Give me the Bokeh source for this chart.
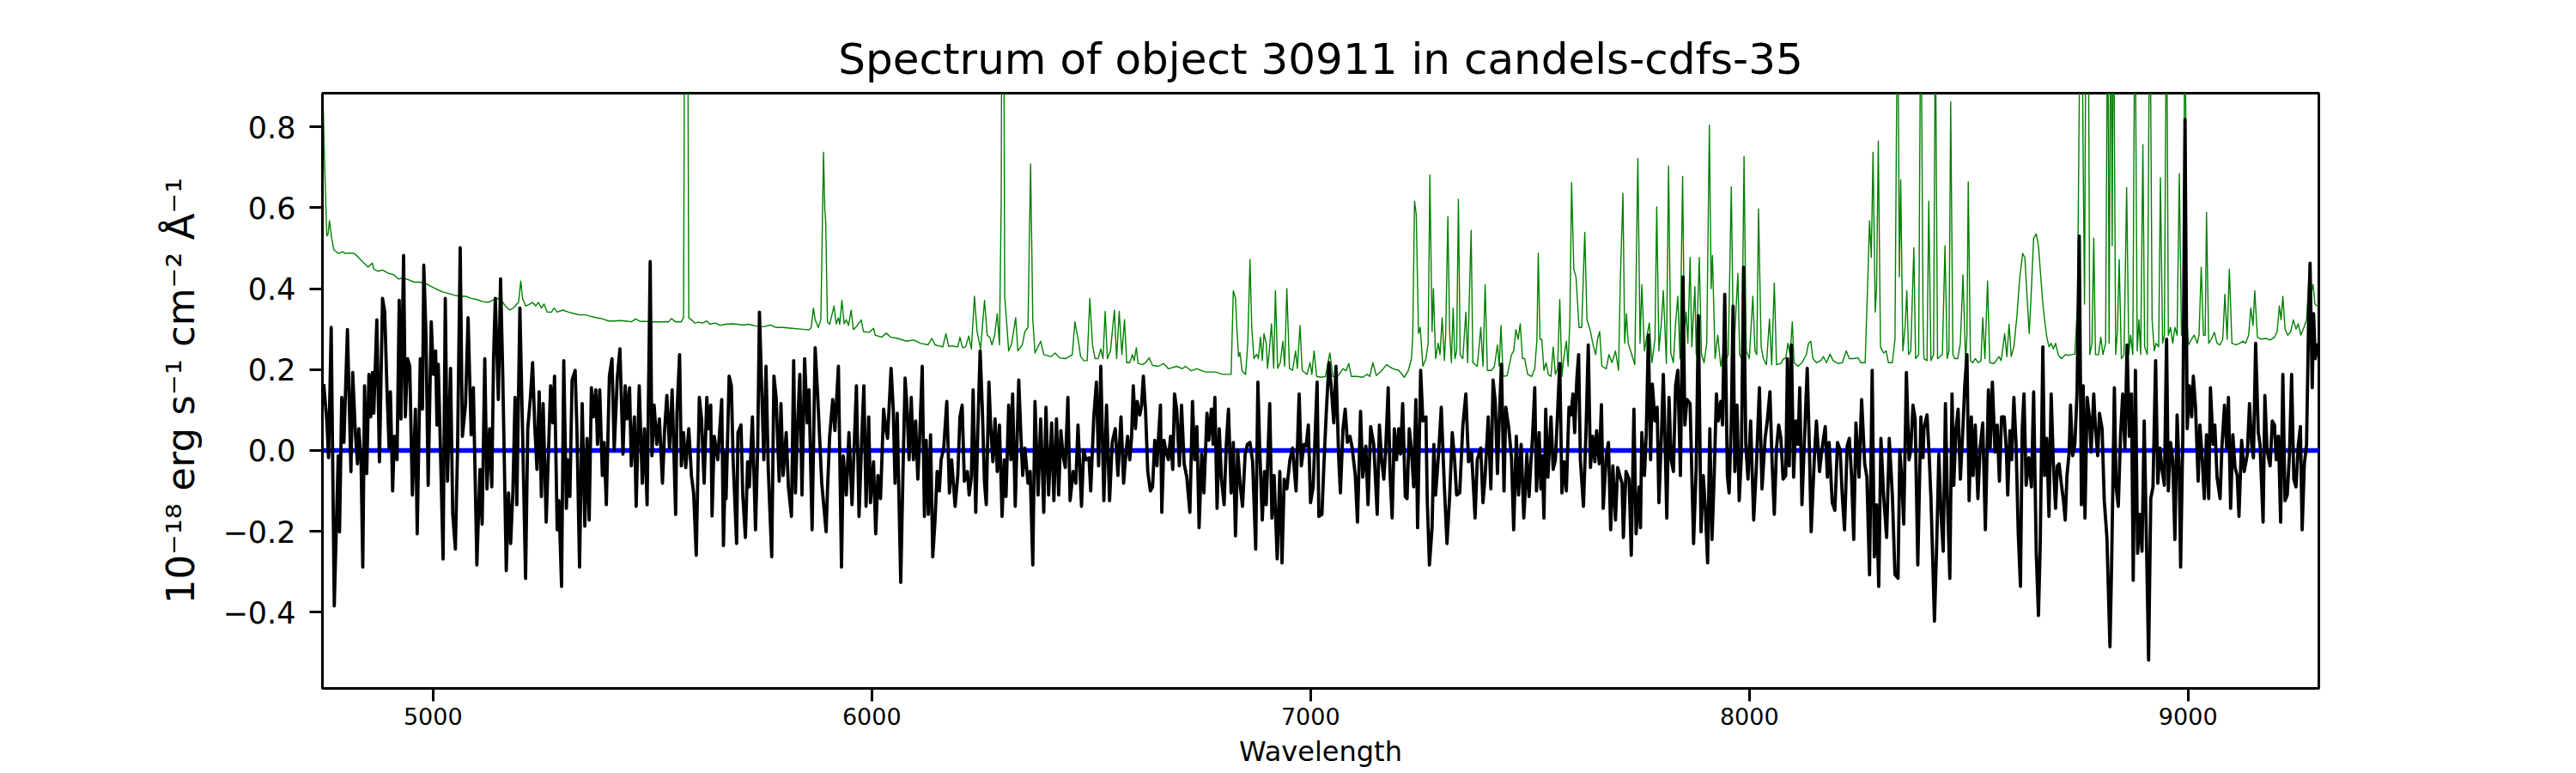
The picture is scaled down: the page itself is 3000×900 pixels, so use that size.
from bokeh.plotting import figure
from bokeh.models import FixedTicker, Range1d, CustomJSTickFormatter
from bokeh.embed import file_html
from bokeh.resources import INLINE

FONT = "DejaVu Sans"

title_text = "Spectrum of object 30911 in candels-cdfs-35"
x_label = "Wavelength"
y_label = "10\u207b\u00b9\u2078 erg s\u207b\u00b9 cm\u207b\u00b2 \u00c5\u207b\u00b9"
x_ticks = [5000, 6000, 7000, 8000, 9000]
y_ticks = [-0.4, -0.2, 0.0, 0.2, 0.4, 0.6, 0.8]
x_limits = (4748, 9298)
y_limits = (-0.588, 0.883)

flux_wl_1 = [4751,4758,4762,4768,4775,4784,4787,4792,4797,4805,4813,4817,4823,4828,4831,4836,4840,4844,4849,4854,
             4858,4862,4865,4872,4878,4885,4890,4895,4900,4903,4908,4912,4918,4923,4927,4933,4937,4942,4947,4953,
             4960,4964,4971,4976,4979,4984,4989,4996,5001,5006,5009,5012,5017,5023,5028,5033,5040,5045,5051,5056,
             5062,5067,5074,5080,5087,5092,5100,5107,5112,5118,5123,5129,5134,5138,5142,5149,5154,5159,5167,5172,
             5177,5182,5187,5191,5198,5204,5211,5216,5222,5227,5232,5237,5242,5247,5251,5258,5263,5268,5273,5277,
             5283,5287,5293,5298,5304,5307,5312,5317,5324,5328,5334,5340,5346,5351,5356,5361,5366,5371,5375,5380,
             5386,5390,5395,5402,5408,5413,5420,5426,5433,5438,5442,5448,5452,5459,5463,5470,5477,5482,5488,5495,
             5499,5504,5510,5516,5523,5528,5533,5539,5545,5553,5556,5562,5566,5571,5576,5583,5589,5594,5600,5607,
             5612,5618,5624,5628,5633,5636,5641,5649,5658,5662,5667]
flux_1 = [0.164,0.073,-0.018,0.304,-0.384,-0.013,-0.201,0.131,0.020,0.299,-0.052,0.193,0.044,-0.033,0.054,-0.023,-0.288,0.160,-0.057,0.188,
          0.083,0.193,0.092,0.323,-0.028,0.376,0.342,0.155,0.006,0.145,-0.100,0.035,-0.023,0.371,0.078,0.482,0.083,0.227,0.208,-0.110,
          0.102,-0.206,0.227,0.102,0.458,0.285,-0.086,0.318,0.188,0.246,0.063,0.213,0.001,-0.268,0.376,-0.076,0.203,-0.158,-0.244,0.006,
          0.501,0.035,0.112,0.328,0.039,0.155,-0.283,-0.047,-0.182,0.227,-0.095,0.054,-0.090,0.227,0.376,0.126,0.424,0.188,-0.297,-0.105,
          -0.230,-0.105,0.131,-0.134,0.352,0.054,-0.316,0.054,0.131,0.217,0.059,-0.047,0.145,-0.114,0.116,-0.177,-0.009,0.160,0.068,0.184,
          -0.196,-0.124,-0.336,0.222,-0.143,-0.023,-0.114,0.174,0.198,0.054,-0.288,0.116,-0.187,0.030,-0.172,0.155,0.083,0.150,0.015,0.150,
          -0.062,0.020,-0.134,0.184,0.227,0.001,0.179,0.251,-0.009,0.160,0.078,0.155,-0.038,0.083,-0.138,0.160,-0.081,0.054,-0.134,0.467,
          -0.013,0.112,0.015,0.078,-0.081,0.054,0.136,0.006,0.150,-0.158,0.092,0.237,-0.038,0.044,-0.042,0.054,-0.062,-0.105,-0.259,0.131,
          0.078,-0.081,0.131,0.054,0.112,-0.162,0.035,-0.023,0.126,-0.235,-0.004]

flux_wl_2 = [5668,5675,5680,5684,5692,5695,5702,5706,5712,5717,5721,5728,5735,5740,5744,5750,5754,5759,5764,5772,
             5777,5782,5789,5793,5798,5805,5810,5817,5822,5826,5831,5836,5841,5847,5853,5857,5864,5871,5877,5881,
             5886,5896,5899,5904,5911,5916,5924,5931,5935,5942,5948,5955,5965,5971,5978,5982,5987,5993,5997,6004,
             6009,6014,6020,6027,6032,6036,6044,6049,6053,6058,6066,6071,6076,6080,6085,6090,6095,6100,6105,6109,
             6115,6120,6124,6129,6134,6139,6144,6149,6154,6158,6164,6171,6177,6182,6190,6196,6201,6206,6211,6218,
             6222,6227,6231,6237,6242,6247,6252,6257,6261,6267,6271,6276,6281,6286,6291,6297,6302,6306,6312,6317,
             6321,6327,6335,6340,6344,6349,6356,6361,6367,6372,6379,6385,6392,6397,6403,6410,6415,6421,6426,6431,
             6436,6441,6447,6452,6459,6465,6470,6478,6483,6488,6495,6499,6506,6512,6517,6522,6529,6535,6542,6548,
             6555,6561,6568,6574]
flux_2 = [-0.119,0.184,0.160,-0.023,-0.230,0.044,0.063,-0.110,-0.215,-0.028,-0.090,0.083,-0.196,0.006,0.342,0.121,-0.023,0.208,-0.042,-0.263,
          0.184,0.131,-0.076,0.116,-0.062,0.044,-0.090,-0.163,0.222,-0.105,0.063,0.188,-0.110,0.227,0.068,0.150,-0.196,0.254,0.131,0.035,
          -0.081,-0.201,-0.100,0.035,0.126,0.049,0.208,-0.288,-0.013,-0.110,0.044,-0.134,0.160,-0.163,0.054,0.160,-0.138,0.083,-0.129,-0.028,
          -0.206,-0.062,-0.119,0.102,0.054,0.030,0.203,0.102,-0.081,0.092,-0.326,-0.062,0.179,0.112,-0.023,0.131,-0.023,0.073,-0.071,0.025,
          0.208,-0.163,0.025,-0.158,0.039,-0.263,-0.177,-0.052,-0.100,-0.023,0.006,0.121,-0.105,-0.023,-0.138,-0.062,0.083,0.112,-0.076,-0.052,
          -0.110,-0.066,0.150,-0.153,0.063,0.246,0.102,-0.081,-0.134,0.169,0.063,-0.028,0.078,-0.052,0.063,-0.163,-0.023,-0.114,0.112,-0.023,
          0.140,-0.138,0.174,0.035,-0.062,0.006,-0.081,-0.052,-0.283,0.121,-0.110,0.078,-0.153,0.107,-0.110,0.068,-0.124,0.078,-0.110,0.049,
          -0.013,-0.042,0.131,-0.124,-0.052,-0.081,0.063,-0.138,0.001,-0.023,-0.018,-0.100,0.083,0.169,-0.038,0.208,-0.124,0.112,-0.124,0.020,
          0.054,-0.062,0.083,-0.081]

flux_wl_3 = [6578,6583,6588,6592,6596,6601,6605,6611,6615,6619,6624,6629,6635,6640,6645,6650,6653,6658,6661,6666,
             6671,6676,6681,6686,6690,6695,6701,6706,6712,6718,6725,6731,6736,6741,6746,6752,6757,6764,6768,6774,
             6778,6782,6787,6792,6797,6803,6808,6813,6819,6824,6829,6834,6840,6845,6851,6856,6862,6868,6875,6880,
             6884,6890,6895,6899,6907,6912,6917,6924,6930,6935,6940,6946,6953,6959,6967,6974,6979,6985,6990,6995,
             7000,7006,7015,7019,7026,7030,7036,7042,7047,7053,7058,7064,7068,7074,7079,7084,7090,7095,7102,7107,
             7114,7119,7126,7131,7137,7144,7152,7157,7162,7167,7171,7177,7181,7186,7191,7196,7201,7205,7210,7216,
             7220,7225,7230,7235,7240,7244,7251,7256,7263,7266,7271,7277,7281,7285,7292,7298,7305,7311,7317,7323,
             7328,7333,7340,7347,7354,7360,7367,7375,7380,7388,7393,7398,7405,7411,7416,7421,7426,7430,7435,7441,
             7445,7452,7458,7463,7469,7474,7480,7486]
flux_3 = [-0.023,0.035,-0.023,0.030,0.160,0.054,0.121,0.088,0.112,0.184,0.097,-0.052,-0.100,-0.090,0.025,-0.038,0.025,0.112,-0.153,0.025,
          -0.004,-0.023,0.035,-0.047,0.140,0.102,-0.038,0.112,-0.033,-0.066,-0.153,0.121,-0.023,0.059,-0.191,-0.009,-0.105,0.092,0.025,0.102,
          0.015,0.131,-0.143,0.054,-0.071,-0.134,0.015,0.102,-0.105,0.020,-0.211,0.001,-0.090,-0.138,-0.009,0.015,0.020,-0.028,-0.244,0.169,
          0.011,-0.172,-0.052,-0.134,0.116,-0.167,-0.062,-0.268,-0.052,-0.278,-0.071,-0.095,-0.023,0.006,-0.100,0.140,-0.038,0.015,0.011,0.063,
          -0.129,-0.090,0.169,-0.163,-0.158,-0.047,0.097,0.217,0.160,0.068,0.208,-0.013,-0.105,0.054,0.102,0.020,0.035,0.006,-0.062,-0.177,
          0.097,-0.066,0.011,-0.134,0.059,0.015,-0.158,0.063,-0.023,-0.071,-0.004,0.155,-0.052,-0.167,0.054,-0.023,0.054,-0.009,0.116,-0.114,
          -0.119,0.054,0.001,-0.090,0.126,-0.191,0.198,0.073,0.083,-0.124,-0.283,-0.191,0.015,-0.110,-0.004,0.107,-0.090,-0.230,-0.114,0.044,
          -0.018,-0.110,-0.105,0.059,0.140,-0.028,-0.004,-0.167,-0.023,0.006,-0.129,-0.062,0.083,-0.095,0.174,0.121,-0.057,0.073,0.213,-0.100,
          0.107,0.054,-0.018,-0.196,0.035,-0.110,0.015,-0.167]

flux_wl_4 = [7488,7493,7498,7502,7506,7511,7515,7521,7525,7528,7532,7536,7541,7548,7553,7558,7563,7568,7573,7578,
             7583,7589,7594,7598,7602,7607,7611,7615,7622,7628,7633,7638,7643,7648,7652,7658,7663,7667,7674,7679,
             7684,7689,7695,7700,7705,7710,7713,7719,7726,7731,7737,7742,7749,7752,7755,7761,7765,7770,7775,7779,
             7785,7790,7794,7800,7804,7807,7812,7817,7822,7827,7832,7837,7843,7849,7853,7858,7865,7873,7879,7884,
             7890,7895,7900,7905,7910,7915,7920,7925,7929,7935,7939,7944,7950,7954,7959,7963,7967,7972,7977,7982,
             7987,7992,7997,8003,8010,8016,8023,8029,8036,8041,8047,8052,8057,8062,8067,8072,8077,8083,8087,8091,
             8096,8101,8106,8111,8115,8120,8126,8132,8137,8141,8148,8153,8160,8166,8173,8178,8182,8189,8195,8201,
             8207,8212,8217,8223,8228,8233,8238,8243,8250,8256,8263,8268,8274,8280,8285,8290,8295,8300,8306,8313,
             8319,8326,8332,8339,8343,8347,8352,8358,8364,8368,8373,8378,8384,8391,8396]
flux_4 = [-0.129,-0.009,-0.114,-0.033,0.035,0.155,-0.100,0.044,-0.095,-0.013,-0.167,0.102,-0.066,0.083,-0.047,-0.023,0.092,0.215,-0.105,-0.028,
          -0.100,0.107,0.088,0.140,0.044,0.179,0.237,-0.023,-0.138,0.054,0.261,-0.042,0.035,-0.028,0.049,-0.033,0.113,-0.143,-0.013,0.020,
          -0.196,-0.038,-0.172,-0.042,-0.062,-0.081,-0.215,-0.052,-0.071,-0.259,0.102,-0.206,-0.090,-0.191,0.044,-0.062,0.035,0.285,-0.023,0.164,
          0.073,0.107,-0.129,0.044,0.188,0.073,-0.167,0.131,-0.023,-0.052,0.160,0.198,-0.062,0.429,0.063,0.126,0.116,-0.230,-0.042,0.333,
          -0.201,-0.062,-0.148,-0.278,0.054,-0.220,-0.062,0.140,0.073,0.121,0.063,0.386,-0.062,-0.105,0.073,0.357,-0.052,0.112,-0.124,-0.013,
          0.453,0.015,-0.071,0.073,-0.172,-0.042,0.155,-0.095,0.030,0.073,0.145,-0.033,-0.158,0.006,0.063,0.030,-0.071,-0.062,0.227,-0.038,
          0.261,-0.066,0.073,0.015,0.155,-0.134,0.035,0.203,0.006,-0.201,-0.023,0.073,-0.052,0.006,0.059,-0.066,0.020,-0.129,-0.148,0.020,
          0.001,-0.114,-0.196,0.011,0.030,-0.062,-0.220,0.068,-0.066,0.126,-0.033,-0.066,-0.307,0.198,-0.263,-0.134,-0.336,0.030,-0.110,-0.215,
          0.030,-0.110,-0.307,-0.316,0.001,-0.062,-0.182,0.193,-0.023,0.001,0.112,0.078,-0.283,0.083,-0.018]

flux_wl_5 = [8398,8405,8410,8414,8422,8427,8432,8437,8442,8447,8451,8457,8462,8466,8471,8476,8481,8486,8491,8496,
             8501,8506,8510,8515,8521,8526,8532,8538,8545,8549,8554,8560,8565,8570,8575,8581,8586,8589,8594,8598,
             8603,8608,8613,8618,8622,8626,8631,8637,8643,8648,8654,8659,8663,8669,8673,8678,8683,8688,8693,8698,
             8702,8706,8711,8716,8720,8724,8729,8732,8737,8742,8747,8752,8757,8761,8765,8770,8775,8779,8785,8789,
             8794,8798,8804,8809,8815,8822,8826,8832,8836,8841,8846,8851,8856,8861,8866,8871,8875,8880,8885,8890,
             8895,8900,8905,8910,8915,8920,8926,8931,8936,8940,8946,8951,8955,8960,8965,8970,8975,8980,8983,8988,
             8993,8998,9003,9008,9012,9017,9023,9027,9032,9037,9042,9047,9051,9057,9061,9066,9073,9077,9083,9088,
             9092,9097,9102,9107,9112,9116,9122,9128,9135,9140,9145,9149,9154,9160,9164,9171,9175,9180,9187,9192,
             9197,9201,9206,9211,9216,9221,9226,9231,9236,9241,9246,9251,9256,9260,9265,9270,9275,9278,9283,9286,
             9290,9294,9301]
flux_5 = [0.054,0.088,-0.013,-0.119,-0.422,-0.235,-0.009,-0.158,-0.249,0.116,-0.100,-0.316,0.140,-0.086,0.054,0.102,-0.071,0.035,0.160,0.237,
          -0.124,0.083,-0.062,0.063,-0.119,0.006,0.068,-0.196,0.150,0.006,0.169,-0.004,0.063,-0.076,0.083,0.083,-0.004,-0.110,0.049,-0.023,
          0.131,0.015,-0.206,-0.336,0.054,0.140,-0.086,-0.018,-0.090,0.145,-0.254,-0.408,-0.235,0.256,-0.062,0.030,-0.163,0.140,-0.033,-0.143,
          -0.038,-0.033,-0.081,-0.124,-0.172,-0.062,-0.004,0.112,-0.013,0.015,0.145,0.530,-0.134,0.160,-0.167,0.131,0.083,-0.004,0.140,0.054,
          -0.013,0.092,0.054,-0.124,-0.215,-0.485,-0.268,0.155,-0.090,-0.138,0.035,0.140,0.006,0.261,0.035,0.140,-0.321,0.198,-0.254,-0.158,
          -0.249,0.073,-0.215,-0.518,-0.119,-0.090,0.222,-0.081,0.006,-0.042,-0.086,0.275,-0.100,0.020,-0.023,-0.220,0.088,-0.062,-0.288,0.035,
          0.818,0.054,0.160,0.083,0.184,0.107,-0.076,0.063,-0.018,-0.119,0.039,-0.119,0.155,0.015,0.063,-0.066,-0.119,0.006,0.112,0.006,
          0.131,-0.143,0.039,-0.042,-0.062,-0.163,0.025,-0.052,-0.009,0.116,0.015,-0.018,0.265,0.044,0.015,-0.177,0.136,0.001,-0.038,0.073,
          0.063,-0.023,0.035,-0.177,0.188,-0.124,-0.110,-0.013,0.188,-0.071,-0.090,0.011,0.059,-0.196,-0.033,0.015,0.342,0.463,0.155,0.338,
          0.227,0.261,0.246]

# ---- sky / noise spectrum (green) ----
sky_wl_1 = [4750,4753,4758,4761,4764,4769,4774,4784,4794,4800,4810,4820,4826,4839,4852,4862,4865,4875,4885,4898,
            4911,4921,4931,4944,4957,4970,4983,4996,5009,5022,5035,5048,5061,5074,5087,5100,5113,5126,5139,5146,
            5156,5165,5175,5185,5191,5195,5200,5204,5211,5221,5227,5234,5240,5247,5253,5260,5270,5276,5283,5296,
            5309,5322,5335,5348,5361,5374,5387,5400,5413,5426,5439,5452,5462,5472,5485,5498,5511,5524,5537,5543,
            5553,5566,5571,5575,5579,5583,5589,5596,5605,5615,5624,5631,5644,5654,5667]
sky_1 = [0.842,0.708,0.530,0.535,0.568,0.525,0.496,0.487,0.491,0.487,0.488,0.487,0.482,0.467,0.453,0.463,0.448,0.443,0.446,0.438,
         0.434,0.424,0.426,0.422,0.416,0.416,0.413,0.405,0.398,0.392,0.388,0.384,0.381,0.381,0.376,0.373,0.368,0.366,0.373,0.376,
         0.371,0.357,0.347,0.354,0.362,0.366,0.419,0.376,0.357,0.362,0.366,0.357,0.366,0.352,0.362,0.342,0.342,0.352,0.342,0.347,
         0.342,0.338,0.335,0.335,0.331,0.328,0.325,0.320,0.320,0.321,0.320,0.318,0.325,0.319,0.319,0.318,0.318,0.318,0.318,0.326,
         0.318,0.318,0.328,1.600,1.600,0.328,0.323,0.315,0.317,0.315,0.320,0.312,0.315,0.309,0.312]

sky_wl_2 = [5681,5694,5707,5720,5733,5753,5769,5782,5798,5818,5838,5857,5862,5867,5871,5878,5884,5890,5893,5895,
            5899,5904,5914,5919,5924,5927,5932,5937,5942,5947,5953,5958,5965,5976,5981,5994,6004,6008,6023,6033,
            6043,6059,6079,6096,6111,6128,6137,6144,6162,6169,6175,6186,6196,6201,6207,6214,6221,6227,6234,6240,
            6248,6257,6263,6269,6274,6280,6286,6291,6295,6297,6300,6303,6307,6312,6319,6328,6333,6343,6349,6356,
            6362,6367,6372,6385,6392,6408,6418,6428,6441,6450,6457,6463,6471,6476,6483,6491,6497,6503,6509,6516,
            6522,6527,6532,6537,6544,6553,6558,6564,6570,6576]
sky_2 = [0.313,0.312,0.310,0.312,0.308,0.306,0.310,0.304,0.304,0.302,0.300,0.298,0.304,0.352,0.323,0.304,0.323,0.737,0.596,0.565,
         0.318,0.312,0.357,0.313,0.328,0.312,0.371,0.313,0.323,0.309,0.347,0.299,0.306,0.323,0.294,0.292,0.302,0.285,0.280,0.290,
         0.280,0.277,0.270,0.273,0.265,0.261,0.277,0.261,0.256,0.289,0.258,0.258,0.256,0.280,0.254,0.256,0.283,0.251,0.381,0.294,
         0.251,0.371,0.285,0.280,0.261,0.285,0.338,0.261,0.612,1.400,1.400,0.381,0.323,0.246,0.265,0.328,0.246,0.261,0.294,0.304,
         0.708,0.323,0.241,0.270,0.237,0.232,0.241,0.229,0.227,0.232,0.237,0.318,0.270,0.232,0.222,0.222,0.376,0.261,0.227,0.227,
         0.251,0.227,0.344,0.227,0.246,0.347,0.227,0.344,0.237,0.323]

sky_wl_3 = [6581,6588,6594,6598,6603,6607,6617,6624,6632,6640,6653,6665,6676,6695,6708,6715,6728,6741,6761,6783,
            6800,6819,6824,6829,6832,6836,6839,6844,6852,6857,6862,6866,6871,6877,6881,6886,6890,6894,6899,6902,
            6906,6911,6916,6920,6925,6931,6937,6941,6946,6952,6959,6966,6970,6976,6981,6992,6999,7003,7008,7014,
            7025,7034,7044,7051,7060,7074,7081,7087,7093,7106,7119,7129,7135,7142,7150,7162,7173,7188,7201,7207,
            7214,7223,7230,7233,7237,7241,7246,7250,7256,7263,7268,7272,7277,7280,7285,7291,7295,7300,7305,7308,
            7313,7317,7321,7325,7329,7333,7337,7341,7347,7354,7358,7366,7370,7380,7388,7393,7398,7403,7413,7419,
            7426,7430,7434,7439,7448,7458,7463,7468,7473,7478,7483]
sky_3 = [0.217,0.217,0.237,0.222,0.254,0.215,0.212,0.217,0.229,0.210,0.208,0.215,0.202,0.208,0.202,0.208,0.197,0.202,0.194,0.194,
         0.188,0.188,0.395,0.376,0.304,0.232,0.242,0.197,0.188,0.265,0.472,0.304,0.227,0.238,0.227,0.280,0.222,0.289,0.265,0.203,
         0.246,0.313,0.203,0.395,0.203,0.217,0.270,0.208,0.400,0.203,0.198,0.246,0.203,0.309,0.198,0.188,0.217,0.188,0.246,0.183,
         0.181,0.183,0.241,0.183,0.181,0.202,0.197,0.215,0.183,0.183,0.181,0.188,0.183,0.217,0.185,0.197,0.212,0.202,0.198,0.190,
         0.181,0.198,0.227,0.285,0.616,0.583,0.289,0.304,0.208,0.227,0.265,0.681,0.294,0.400,0.227,0.265,0.237,0.328,0.222,0.285,
         0.578,0.294,0.217,0.352,0.227,0.246,0.621,0.237,0.227,0.342,0.217,0.544,0.217,0.208,0.304,0.208,0.410,0.198,0.198,0.208,
         0.261,0.208,0.309,0.183,0.185,0.237,0.246,0.299,0.275,0.313,0.227]

sky_wl_4 = [7488,7495,7504,7511,7516,7519,7523,7527,7532,7537,7542,7548,7553,7558,7563,7568,7573,7577,7583,7587,
            7591,7595,7600,7605,7612,7618,7625,7630,7637,7644,7650,7654,7659,7664,7674,7680,7687,7695,7702,7706,
            7712,7716,7720,7724,7731,7739,7746,7751,7755,7761,7767,7772,7778,7785,7789,7794,7800,7804,7811,7816,
            7821,7827,7832,7837,7842,7848,7852,7856,7860,7865,7869,7876,7879,7886,7891,7897,7903,7909,7913,7916,
            7922,7928,7935,7941,7948,7952,7959,7964,7969,7974,7978,7983,7988,7993,8000,8008,8013,8017,8021,8027,
            8032,8039,8046,8051,8057,8062,8072,8078,8083,8088,8093,8098,8102,8111,8120,8130,8135,8140,8145,8153,
            8163,8169,8176,8184,8191,8202,8212,8221,8228,8238,8248,8254,8264,8270,8274,8278,8282,8287,8290,8294,
            8299,8306,8312,8317,8326,8332,8338,8342,8345,8350,8355,8359,8363,8368,8375,8379,8386,8391,8396]
sky_4 = [0.227,0.188,0.183,0.202,0.275,0.488,0.275,0.275,0.198,0.217,0.188,0.183,0.256,0.188,0.202,0.373,0.183,0.227,0.270,0.208,
         0.323,0.662,0.448,0.429,0.304,0.304,0.539,0.323,0.299,0.261,0.237,0.275,0.294,0.208,0.202,0.237,0.217,0.246,0.198,0.419,
         0.636,0.265,0.338,0.265,0.241,0.212,0.722,0.265,0.410,0.246,0.285,0.315,0.217,0.275,0.602,0.246,0.323,0.395,0.215,0.703,
         0.241,0.217,0.313,0.381,0.227,0.677,0.294,0.342,0.265,0.477,0.256,0.405,0.237,0.477,0.237,0.217,0.265,0.804,0.400,0.482,
         0.227,0.285,0.208,0.246,0.227,0.237,0.652,0.227,0.333,0.438,0.237,0.227,0.727,0.246,0.227,0.381,0.246,0.237,0.597,0.256,
         0.227,0.212,0.325,0.212,0.414,0.212,0.215,0.227,0.227,0.265,0.237,0.318,0.217,0.208,0.217,0.237,0.265,0.270,0.227,0.217,
         0.222,0.232,0.217,0.238,0.222,0.215,0.217,0.246,0.227,0.227,0.229,0.217,0.217,0.419,0.568,0.477,0.737,0.342,0.400,0.765,
         0.256,0.241,0.246,0.217,0.217,0.275,1.200,0.429,0.669,0.246,0.304,0.395,0.237,0.246,0.501,0.227,0.237,1.200,0.323]

sky_wl_5 = [8398,8405,8409,8414,8420,8424,8429,8434,8440,8446,8451,8455,8459,8464,8468,8475,8481,8487,8493,8496,
            8499,8504,8509,8515,8522,8528,8532,8537,8543,8548,8558,8569,8574,8582,8587,8592,8597,8603,8610,8616,
            8623,8628,8633,8638,8643,8648,8654,8659,8663,8669,8673,8678,8683,8688,8693,8698,8704,8711,8721,8727,
            8734,8742,8748,8752,8757,8761,8764,8768,8772,8776,8781,8785,8789,8796,8801,8806,8812,8817,8820,8824,
            8827,8830,8835,8839,8843,8848,8854,8860,8865,8869,8874,8879,8884,8888,8892,8897,8901,8907,8913,8918,
            8923,8927,8933,8937,8942,8946,8951,8955,8960,8965,8970,8975,8980,8985,8989,8993,8997,9001,9008,9014,
            9021,9025,9030,9035,9039,9042,9047,9053,9060,9066,9073,9079,9084,9089,9094,9100,9109,9118,9125,9131,
            9138,9143,9148,9152,9158,9167,9177,9187,9197,9203,9208,9212,9216,9221,9227,9234,9240,9246,9251,9257,
            9264,9270,9275,9279,9285,9289,9294]
sky_5 = [0.227,0.222,0.616,0.222,0.237,1.100,0.227,0.232,0.237,0.506,0.227,0.246,0.862,0.237,0.227,0.227,0.265,0.434,0.217,0.285,
         0.664,0.222,0.217,0.227,0.217,0.222,0.328,0.227,0.419,0.217,0.215,0.232,0.222,0.289,0.232,0.312,0.232,0.256,0.333,0.424,
         0.487,0.477,0.381,0.289,0.400,0.525,0.535,0.506,0.448,0.362,0.323,0.280,0.256,0.265,0.251,0.265,0.237,0.227,0.237,0.235,
         0.237,0.238,0.362,0.866,1.300,0.708,0.362,1.300,1.300,0.237,0.265,0.525,0.237,0.237,0.280,0.237,0.265,1.200,0.265,1.200,
         0.506,1.200,0.237,0.294,0.472,0.227,0.237,0.650,0.237,0.285,0.237,1.200,0.246,0.323,0.237,0.756,0.256,0.237,1.200,0.323,
         0.246,0.265,0.256,0.674,0.265,0.285,1.200,0.285,0.304,0.265,0.304,0.285,0.684,0.285,0.313,1.200,0.323,0.261,0.275,0.285,
         0.265,0.285,0.453,0.285,0.285,0.588,0.265,0.275,0.292,0.265,0.261,0.275,0.386,0.275,0.448,0.265,0.261,0.265,0.270,0.265,
         0.285,0.352,0.309,0.395,0.280,0.275,0.277,0.273,0.280,0.294,0.357,0.323,0.381,0.300,0.285,0.294,0.323,0.300,0.313,0.285,
         0.304,0.323,0.419,0.381,0.410,0.362,0.357]

# ---- zero level (blue) ----
zero_wl = [4748, 9300]
zero_flux = [0.0, 0.0]


def pair(xs, ys):
    n = min(len(xs), len(ys))
    return list(xs[:n]), list(ys[:n])


flux_wl, flux = [], []
for a, b in [(flux_wl_1, flux_1), (flux_wl_2, flux_2), (flux_wl_3, flux_3), (flux_wl_4, flux_4), (flux_wl_5, flux_5)]:
    xa, ya = pair(a, b)
    flux_wl += xa
    flux += ya

sky_wl, sky = [], []
for a, b in [(sky_wl_1, sky_1), (sky_wl_2, sky_2), (sky_wl_3, sky_3), (sky_wl_4, sky_4), (sky_wl_5, sky_5)]:
    xa, ya = pair(a, b)
    sky_wl += xa
    sky += ya

p = figure(width=3000, height=900,
           x_range=Range1d(*x_limits), y_range=Range1d(*y_limits),
           output_backend="svg", toolbar_location=None,
           min_border_left=375, min_border_right=300, min_border_top=108, min_border_bottom=99,
           background_fill_color="white", border_fill_color="white")

p.title.text = title_text
p.title.align = "center"
p.title.text_font = FONT
p.title.text_font_size = "50px"
p.title.text_font_style = "normal"
p.title.text_color = "black"
p.title.standoff = 22

p.xgrid.visible = False
p.ygrid.visible = False
p.outline_line_color = "black"
p.outline_line_width = 3
p.outline_line_alpha = 1.0

for ax in (p.xaxis[0], p.yaxis[0]):
    ax.axis_line_width = 3
    ax.axis_line_color = "black"
    ax.major_tick_line_width = 3
    ax.major_tick_line_color = "black"
    ax.major_tick_out = 15
    ax.major_tick_in = 0
    ax.minor_tick_out = 0
    ax.minor_tick_in = 0
    ax.minor_tick_line_color = None
    ax.major_label_text_font = FONT
    ax.major_label_text_color = "black"
    ax.axis_label_text_font = FONT
    ax.axis_label_text_font_style = "normal"
    ax.axis_label_text_color = "black"

p.xaxis.ticker = FixedTicker(ticks=x_ticks)
p.xaxis.major_label_text_font_size = "27px"
p.xaxis.major_label_standoff = 7
p.xaxis.axis_label = x_label
p.xaxis.axis_label_text_font_size = "32px"
p.xaxis.axis_label_standoff = 9

p.yaxis.ticker = FixedTicker(ticks=y_ticks)
p.yaxis.formatter = CustomJSTickFormatter(code="""
    const s = Math.abs(tick).toFixed(1);
    return (tick < -1e-9) ? '\u2212' + s : s;
""")
p.yaxis.major_label_text_font_size = "35px"
p.yaxis.major_label_standoff = 16
p.yaxis.axis_label = y_label
p.yaxis.axis_label_text_font_size = "45px"
p.yaxis.axis_label_standoff = 20

p.line(sky_wl, sky, line_color="#008000", line_width=1.4, line_join="round")
p.line(zero_wl, zero_flux, line_color="#0000ff", line_width=5.5)
p.line(flux_wl, flux, line_color="black", line_width=3.8, line_join="round")

with open("out.html", "w") as f:
    f.write(file_html(p, INLINE, title="Spectrum of object 30911"))
